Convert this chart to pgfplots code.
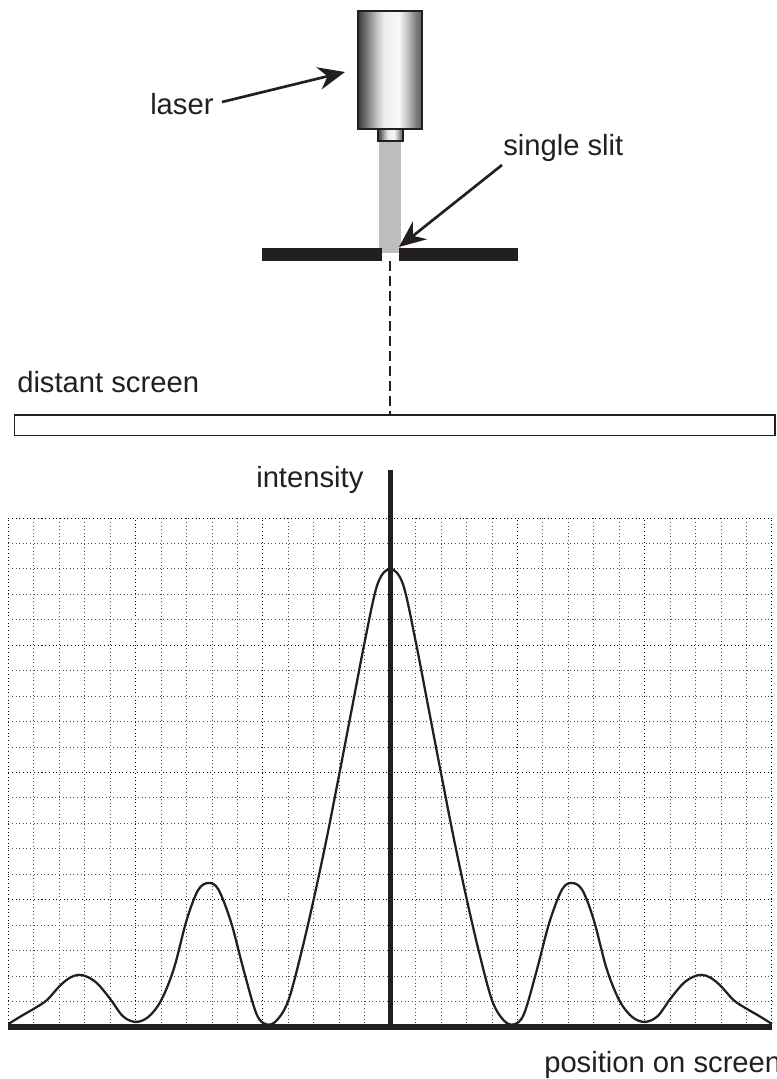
\documentclass[border=0pt]{standalone}
\usepackage{fontspec}
\setmainfont{Liberation Sans}
\usepackage{pgfplots}
\pgfplotsset{compat=1.18}
\usetikzlibrary{arrows.meta}
\definecolor{ink}{HTML}{231F20}
\definecolor{beam}{HTML}{BCBEC0}
\pgfdeclarehorizontalshading{lasershade}{100bp}{
  color(0bp)=(black!78); color(25bp)=(black!78); color(32bp)=(black!52); color(40bp)=(black!22); color(46bp)=(black!6);
  color(57bp)=(black!3); color(63bp)=(black!22); color(70bp)=(black!50); color(75bp)=(black!62); color(100bp)=(black!62)}
\pgfplotstableread{
x y
-15 0.12
-14.5 0.43
-14 0.72
-13.5 1.05
-13 1.6
-12.6 1.93
-12.25 2.05
-11.9 1.97
-11.5 1.7
-11 1.1
-10.5 0.42
-10 0.2
-9.5 0.4
-9 1.05
-8.5 2.3
-8 4.2
-7.55 5.38
-7.14 5.66
-6.75 5.4
-6.25 4.1
-5.75 2.2
-5.25 0.5
-4.85 0.1
-4.45 0.27
-4 1.05
-3.5 2.9
-3 5.05
-2.5 7.4
-2 9.95
-1.5 12.55
-1 15.15
-0.5 17.4
0 18
0.5 17.4
1 15.15
1.5 12.55
2 9.95
2.5 7.4
3 5.05
3.5 2.9
4 1.05
4.45 0.27
4.85 0.1
5.25 0.5
5.75 2.2
6.25 4.1
6.75 5.4
7.14 5.66
7.55 5.38
8 4.2
8.5 2.3
9 1.05
9.5 0.4
10 0.2
10.5 0.42
11 1.1
11.5 1.7
11.9 1.97
12.25 2.05
12.6 1.93
13 1.6
13.5 1.05
14 0.72
14.5 0.43
15 0.12
}\curvedata
\begin{document}
\begin{tikzpicture}[x=0.75pt,y=-0.75pt,
  lab/.style={anchor=base west,inner sep=0pt,text=ink,font=\fontsize{21.9}{26}\selectfont}]
\useasboundingbox (0,0) rectangle (777,1079);
% laser
\shade[shading=lasershade] (358,10.5) rectangle (422,129);
\draw[ink,line width=1.5pt] (358,10.5) rectangle (422,129);
\shade[shading=lasershade] (378,129) rectangle (403,141);
\draw[ink,line width=1.1pt] (378,129) rectangle (403,141);
% beam
\fill[beam] (379,141.5) rectangle (401,247.5);
\fill[beam] (381.7,247.5) rectangle (398.7,252.5);
% slit bars
\fill[ink] (262,247.5) rectangle (381.7,261);
\fill[ink] (398.7,247.5) rectangle (518.3,261);
\draw[ink,line width=1.6pt,dash pattern=on 7.5pt off 3.75pt] (390,261) -- (390,415);
% screen
\draw[ink,line width=1.25pt] (14.5,415) rectangle (775,435.5);
% arrows
\draw[ink,line width=2pt,-{Stealth[length=20pt,width=17pt,inset=6.5pt]}] (222,102) -- (345,72);
\draw[ink,line width=2pt,-{Stealth[length=20pt,width=17pt,inset=6.5pt]}] (502,165) -- (399,247);
% labels
\node[lab] at (150,114) {laser};
\node[lab] at (503,155) {single slit};
\node[lab] at (17,392.7) {distant screen};
\node[lab] at (256,487) {intensity};
\node[lab] at (544,1072.7) {position on screen};
\begin{axis}[
  at={(6.375pt,-770.25pt)},anchor=south west,
  scale only axis,width=572.6pt,height=381.75pt,
  xmin=-15,xmax=15,ymin=0,ymax=20,clip=false,
  xtick={-15,-10,...,15},ytick={0,5,...,20},
  minor tick num=4,
  xticklabels={},yticklabels={},
  axis line style={draw=none},
  tick style={draw=none},
  grid=both,
  major grid style={black,line width=0.75pt,dotted},
  minor grid style={black!70,line width=0.7pt,dotted},
]
\addplot[ink,line width=1.7pt,smooth,tension=0.55,no marks] table[x=x,y=y] {\curvedata};
\addplot[ink,line width=4.3pt,no marks] coordinates {(-15,0) (15,0)};
\addplot[ink,line width=3.9pt,no marks] coordinates {(0,0) (0,21.9)};
\end{axis}
\end{tikzpicture}
\end{document}
